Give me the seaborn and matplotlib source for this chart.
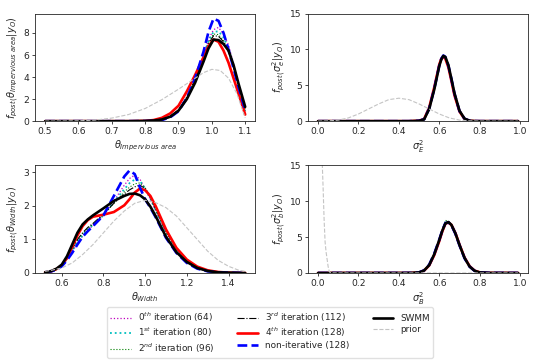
import matplotlib
matplotlib.use("Agg")
import matplotlib.pyplot as plt
import seaborn as sns

# ---- top-left: posterior of theta_Impervious area ----
imp_x = [0.5, 0.6, 0.7, 0.75, 0.8, 0.825, 0.85, 0.875, 0.9, 0.925, 0.95, 0.975,
         0.99, 1.005, 1.02, 1.035, 1.05, 1.065, 1.08, 1.1]
imp_it0 = [0, 0, 0, 0, 0.01, 0.04, 0.12, 0.4, 0.95, 2.1, 3.8, 5.9, 7.4, 8.3, 8.5, 7.9, 6.9, 5.2, 3.3, 0.9]
imp_it1 = [0, 0, 0, 0, 0.01, 0.04, 0.12, 0.4, 0.95, 2.1, 3.8, 5.9, 7.3, 8.1, 8.15, 7.6, 6.6, 5.0, 3.2, 0.9]
imp_it2 = [0, 0, 0, 0, 0.01, 0.05, 0.14, 0.42, 1.0, 2.15, 3.8, 5.8, 7.1, 7.9, 7.85, 7.3, 6.4, 4.9, 3.2, 1.0]
imp_it3 = [0, 0, 0, 0, 0.02, 0.05, 0.15, 0.45, 1.0, 2.2, 3.8, 5.8, 7.0, 7.75, 7.7, 7.2, 6.3, 4.9, 3.3, 1.1]
imp_it4 = [0, 0, 0, 0, 0.03, 0.1, 0.3, 0.7, 1.4, 2.7, 4.2, 5.8, 6.8, 7.4, 7.2, 6.4, 5.3, 3.9, 2.5, 0.6]
imp_noniter = [0, 0, 0, 0, 0.01, 0.03, 0.1, 0.35, 0.9, 2.1, 3.9, 6.3, 8.1, 9.3, 9.1, 8.0, 6.5, 4.8, 3.1, 1.0]
imp_swmm = [0, 0, 0, 0, 0.02, 0.06, 0.15, 0.4, 0.95, 2.0, 3.5, 5.4, 6.6, 7.4, 7.35, 7.0, 6.4, 5.1, 3.4, 1.3]
imp_prior_x = [0.5, 0.55, 0.6, 0.65, 0.7, 0.75, 0.8, 0.85, 0.9, 0.95, 0.975, 1.0, 1.025, 1.05, 1.075, 1.1]
imp_prior = [0, 0.01, 0.03, 0.1, 0.28, 0.6, 1.15, 1.95, 2.9, 3.9, 4.4, 4.7, 4.6, 3.9, 2.5, 0.3]

# ---- top-right: posterior of sigma_e^2 ----
se_x = [0.0, 0.2, 0.4, 0.45, 0.5, 0.525, 0.55, 0.575, 0.6, 0.61, 0.62, 0.63, 0.645,
        0.66, 0.675, 0.7, 0.725, 0.75, 0.775, 0.8, 0.99]
se_it0 = [0, 0, 0, 0, 0.05, 0.26, 1.72, 4.45, 7.72, 8.62, 9.1, 8.95, 7.8, 5.9, 3.9, 1.45, 0.35, 0.06, 0.01, 0, 0]
se_it1 = [0, 0, 0, 0, 0.05, 0.26, 1.74, 4.48, 7.75, 8.65, 9.12, 8.93, 7.78, 5.88, 3.88, 1.42, 0.34, 0.06, 0.01, 0, 0]
se_it2 = [0, 0, 0, 0, 0.05, 0.27, 1.76, 4.5, 7.78, 8.66, 9.1, 8.9, 7.74, 5.84, 3.85, 1.4, 0.33, 0.06, 0.01, 0, 0]
se_it3 = [0, 0, 0, 0, 0.05, 0.27, 1.78, 4.55, 7.8, 8.68, 9.08, 8.86, 7.7, 5.8, 3.8, 1.38, 0.32, 0.05, 0.01, 0, 0]
se_it4 = [0, 0, 0, 0, 0.06, 0.3, 1.9, 4.7, 7.9, 8.7, 9.0, 8.7, 7.5, 5.6, 3.6, 1.35, 0.3, 0.05, 0.01, 0, 0]
se_noniter = [0, 0, 0, 0, 0.05, 0.27, 1.75, 4.5, 7.75, 8.7, 9.15, 8.95, 7.75, 5.85, 3.85, 1.4, 0.33, 0.06, 0.01, 0, 0]
se_swmm = [0, 0, 0, 0, 0.05, 0.25, 1.7, 4.4, 7.7, 8.6, 9.1, 8.95, 7.8, 5.9, 3.9, 1.45, 0.35, 0.06, 0.01, 0, 0]
se_prior_x = [0.0, 0.05, 0.1, 0.15, 0.2, 0.25, 0.3, 0.35, 0.4, 0.45, 0.5, 0.55, 0.6,
              0.65, 0.7, 0.75, 0.8, 0.9, 0.99]
se_prior = [0, 0.03, 0.15, 0.45, 1.0, 1.7, 2.4, 3.0, 3.2, 3.0, 2.4, 1.7, 1.0, 0.45, 0.15, 0.04, 0.01, 0, 0]

# ---- bottom-left: posterior of theta_Width ----
wd_x = [0.52, 0.55, 0.575, 0.6, 0.625, 0.65, 0.675, 0.7, 0.725, 0.75, 0.8, 0.85, 0.9,
        0.925, 0.95, 0.975, 1.0, 1.025, 1.05, 1.1, 1.15, 1.2, 1.25, 1.3, 1.35, 1.4, 1.48]
wd_it0 = [0.02, 0.05, 0.11, 0.21, 0.4, 0.63, 0.88, 1.1, 1.28, 1.42, 1.72, 2.15, 2.62,
          2.82, 2.92, 2.8, 2.5, 2.2, 1.85, 1.18, 0.68, 0.35, 0.15, 0.06, 0.02, 0.01, 0]
wd_it1 = [0.02, 0.05, 0.11, 0.22, 0.42, 0.66, 0.92, 1.13, 1.3, 1.44, 1.72, 2.12, 2.5,
          2.68, 2.79, 2.75, 2.52, 2.22, 1.88, 1.2, 0.69, 0.36, 0.15, 0.06, 0.02, 0.01, 0]
wd_it2 = [0.02, 0.05, 0.12, 0.23, 0.44, 0.7, 0.96, 1.17, 1.33, 1.46, 1.74, 2.08, 2.42,
          2.56, 2.66, 2.69, 2.55, 2.25, 1.9, 1.22, 0.71, 0.37, 0.16, 0.06, 0.02, 0.01, 0]
wd_it3 = [0.02, 0.05, 0.12, 0.24, 0.46, 0.73, 1.0, 1.2, 1.36, 1.48, 1.76, 2.08, 2.36,
          2.48, 2.57, 2.62, 2.52, 2.26, 1.92, 1.25, 0.73, 0.38, 0.17, 0.06, 0.02, 0.01, 0]
wd_it4 = [0.02, 0.05, 0.12, 0.23, 0.45, 0.78, 1.12, 1.4, 1.58, 1.68, 1.74, 1.82, 2.02,
          2.2, 2.4, 2.52, 2.47, 2.3, 2.0, 1.3, 0.75, 0.4, 0.19, 0.08, 0.03, 0.01, 0]
wd_noniter = [0.02, 0.05, 0.1, 0.2, 0.38, 0.6, 0.85, 1.08, 1.25, 1.4, 1.72, 2.3, 2.88,
              3.06, 2.95, 2.55, 2.2, 1.95, 1.67, 1.05, 0.6, 0.3, 0.13, 0.05, 0.02, 0.01, 0]
wd_swmm = [0.02, 0.06, 0.13, 0.25, 0.5, 0.85, 1.2, 1.45, 1.6, 1.72, 1.93, 2.15, 2.3,
           2.36, 2.37, 2.32, 2.2, 1.98, 1.7, 1.08, 0.62, 0.33, 0.15, 0.06, 0.02, 0.01, 0]
wd_prior_x = [0.52, 0.55, 0.6, 0.65, 0.7, 0.75, 0.8, 0.85, 0.9, 0.95, 1.0, 1.05, 1.1,
              1.15, 1.2, 1.25, 1.3, 1.35, 1.4, 1.45, 1.48]
wd_prior = [0.05, 0.08, 0.15, 0.3, 0.55, 0.85, 1.2, 1.55, 1.85, 2.08, 2.17, 2.1, 1.95, 1.7, 1.35, 1.0, 0.65, 0.38, 0.2, 0.08, 0.05]

# ---- bottom-right: posterior of sigma_b^2 ----
sb_x = [0.0, 0.2, 0.4, 0.46, 0.5, 0.525, 0.55, 0.575, 0.6, 0.615, 0.63, 0.645, 0.66,
        0.68, 0.7, 0.725, 0.75, 0.775, 0.8, 0.85, 0.99]
sb_it0 = [0, 0, 0, 0.01, 0.08, 0.34, 1.08, 2.58, 4.58, 5.9, 6.95, 7.1, 6.7, 5.5, 3.9, 2.1, 0.9, 0.3, 0.08, 0.01, 0]
sb_it1 = [0, 0, 0, 0.01, 0.08, 0.35, 1.1, 2.6, 4.6, 5.92, 7.0, 7.12, 6.7, 5.48, 3.88, 2.08, 0.88, 0.3, 0.08, 0.01, 0]
sb_it2 = [0, 0, 0, 0.01, 0.08, 0.35, 1.1, 2.62, 4.62, 5.95, 7.35, 7.15, 6.72, 5.5, 3.9, 2.1, 0.9, 0.3, 0.08, 0.01, 0]
sb_it3 = [0, 0, 0, 0.01, 0.08, 0.35, 1.1, 2.6, 4.6, 5.9, 6.95, 7.1, 6.7, 5.5, 3.9, 2.1, 0.9, 0.3, 0.08, 0.01, 0]
sb_it4 = [0, 0, 0, 0.01, 0.07, 0.33, 1.05, 2.5, 4.45, 5.8, 6.85, 7.05, 6.7, 5.55, 3.95, 2.15, 0.95, 0.32, 0.09, 0.01, 0]
sb_noniter = [0, 0, 0, 0.01, 0.09, 0.37, 1.15, 2.68, 4.65, 5.95, 6.95, 7.05, 6.65, 5.45, 3.85, 2.05, 0.88, 0.29, 0.08, 0.01, 0]
sb_swmm = [0, 0, 0, 0.01, 0.08, 0.35, 1.1, 2.6, 4.6, 5.9, 6.9, 7.1, 6.7, 5.5, 3.9, 2.1, 0.9, 0.3, 0.08, 0.01, 0]
sb_prior_x = [0.0, 0.01, 0.015, 0.02, 0.025, 0.03, 0.035, 0.04, 0.045, 0.05, 0.055,
              0.06, 0.07, 0.1, 0.5, 0.99]
sb_prior = [80, 40, 24, 16, 12, 7.5, 4.3, 2.9, 1.9, 0.9, 0.3, 0.05, 0.01, 0, 0, 0]

labels = [r"$0^{th}$ iteration (64)", r"$1^{st}$ iteration (80)", r"$2^{nd}$ iteration (96)",
          r"$3^{rd}$ iteration (112)", r"$4^{th}$ iteration (128)", "non-iterative (128)",
          "SWMM", "prior"]

# line styles: (color, linestyle, linewidth)
styles = [("m", ":", 0.9), ("c", ":", 1.3), ("g", ":", 0.8), ("k", "-.", 0.8),
          ("r", "-", 1.9), ("b", "--", 1.9), ("k", "-", 1.9), ("#c4c4c4", "--", 0.8)]

panels = [
    (imp_x, [imp_it0, imp_it1, imp_it2, imp_it3, imp_it4, imp_noniter, imp_swmm], imp_prior_x, imp_prior,
     r"$\theta_{Impervious\ area}$", r"$f_{post(}\theta_{Impervious\ area}|y_O)$", None),
    (se_x, [se_it0, se_it1, se_it2, se_it3, se_it4, se_noniter, se_swmm], se_prior_x, se_prior,
     r"$\sigma_E^2$", r"$f_{post(}\sigma_e^2|y_O)$", 15),
    (wd_x, [wd_it0, wd_it1, wd_it2, wd_it3, wd_it4, wd_noniter, wd_swmm], wd_prior_x, wd_prior,
     r"$\theta_{Width}$", r"$f_{post(}\theta_{Width}|y_O)$", None),
    (sb_x, [sb_it0, sb_it1, sb_it2, sb_it3, sb_it4, sb_noniter, sb_swmm], sb_prior_x, sb_prior,
     r"$\sigma_B^2$", r"$f_{post(}\sigma_b^2|y_O)$", 15),
]

sns.set_style("ticks")
plt.rcParams.update({
    "font.family": ["DejaVu Sans"],
    "font.size": 6.6,
    "xtick.labelsize": 6.6,
    "ytick.labelsize": 6.6,
    "axes.labelsize": 7,
    "axes.linewidth": 0.6,
    "xtick.major.size": 2.4,
    "ytick.major.size": 2.4,
    "xtick.major.width": 0.6,
    "ytick.major.width": 0.6,
    "xtick.major.pad": 2,
    "ytick.major.pad": 2,
    "axes.labelpad": 1.5,
})

fig, axes = plt.subplots(2, 2, figsize=(5.4, 3.6), dpi=100)
fig.subplots_adjust(left=0.065, right=0.978, top=0.9625, bottom=0.2417, wspace=0.24, hspace=0.41)

for ax, (x, posts, px, prior, xlabel, ylabel, ytop) in zip(axes.flat, panels):
    for y, lab, (col, ls, lw) in zip(posts, labels[:7], styles[:7]):
        sns.lineplot(x=x, y=y, ax=ax, color=col, linestyle=ls, linewidth=lw, label=lab)
    col, ls, lw = styles[7]
    sns.lineplot(x=px, y=prior, ax=ax, color=col, linestyle=ls, linewidth=lw, label=labels[7])
    if ytop is not None:
        ax.set_ylim(0, ytop)
    else:
        ax.set_ylim(bottom=0)
    ax.set_xlabel(xlabel)
    ax.set_ylabel(ylabel)

handles, labs = axes[0, 0].get_legend_handles_labels()
for ax in axes.flat:
    if ax.get_legend() is not None:
        ax.get_legend().remove()

fig.legend(handles, labs, loc="lower center", bbox_to_anchor=(0.5, 0.0), ncol=3,
           fontsize=6.4, handlelength=2.3, columnspacing=2.6, labelspacing=0.22,
           borderpad=0.35, handletextpad=0.8, borderaxespad=0.25, edgecolor="0.85")

fig.savefig("out.png", dpi=100)
